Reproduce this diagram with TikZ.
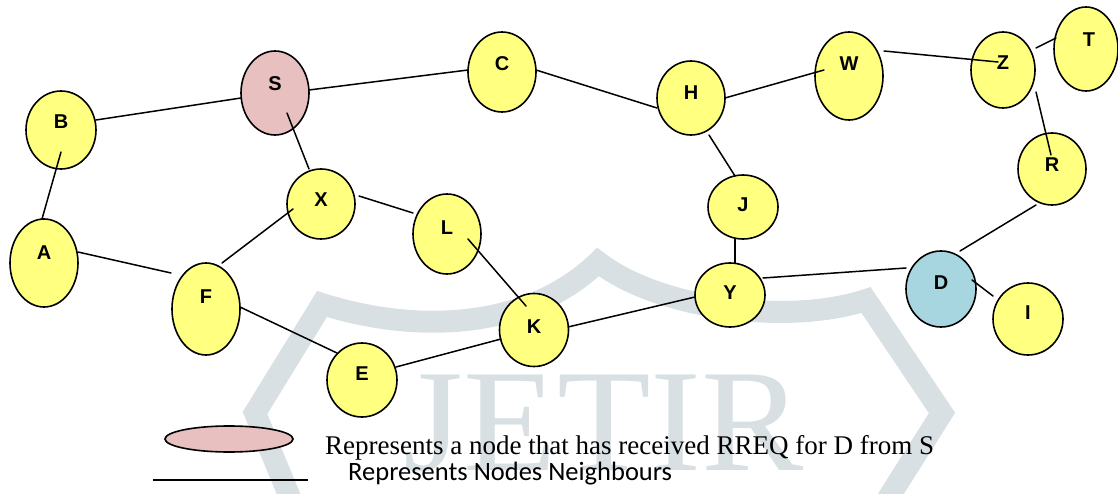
\documentclass[tikz,border=0pt]{standalone}
\usepackage{fontspec}
\setmainfont{Liberation Serif}
\newfontfamily\arialfont{Liberation Sans}
\newfontfamily\calfont{Carlito}
\usetikzlibrary{shapes.geometric,calc}
\definecolor{nodeyellow}{RGB}{255,255,128}
\definecolor{srcpink}{RGB}{232,192,192}
\definecolor{dstblue}{RGB}{168,214,224}
\definecolor{markgray}{RGB}{217,224,228}
\tikzset{
  peer/.style={ellipse, draw=black, line width=1.6pt, fill=nodeyellow, inner sep=0pt},
  tag/.style={font=\arialfont\bfseries\fontsize{20}{24}\selectfont, inner sep=0pt},
  link/.style={line width=1.5pt, line cap=round},
}
\begin{document}
\begin{tikzpicture}[x=1pt,y=-1pt]
\useasboundingbox (0,0) rectangle (1118,494);

% background mark: shield band and lettering
\draw[markgray, line width=22pt, line join=miter]
  (291,500) -- (255,413) -- (322,304)
  .. controls (420,335) and (530,328) .. (598,262)
  .. controls (660,310) and (790,325) .. (866,300)
  -- (942,413) -- (887,500);
\node[text=markgray, font=\fontsize{146}{150}\selectfont, anchor=base,
      xscale=1.05, inner sep=0pt] (mark) at (604,470) {JETIR};

% network nodes
\node[peer, minimum width=70pt, minimum height=78pt] (B) at (61,130) {};
\node[peer, fill=srcpink, minimum width=68pt, minimum height=84pt] (S) at (275,93) {};
\node[peer, minimum width=68pt, minimum height=80pt] (C) at (502,72) {};
\node[peer, minimum width=68pt, minimum height=74pt] (H) at (691,98) {};
\node[peer, minimum width=68pt, minimum height=88pt] (W) at (849,76) {};
\node[peer, minimum width=64pt, minimum height=76pt] (Z) at (1003,70) {};
\node[peer, minimum width=64pt, minimum height=84pt] (T) at (1086,49) {};
\node[peer, minimum width=68pt, minimum height=72pt] (R) at (1052,169) {};
\node[peer, minimum width=70pt, minimum height=64pt] (J) at (743,207) {};
\node[peer, minimum width=70pt, minimum height=64pt] (Y) at (730,295) {};
\node[peer, fill=dstblue, minimum width=70pt, minimum height=76pt] (D) at (941,289) {};
\node[peer, minimum width=70pt, minimum height=72pt] (I) at (1028,319) {};
\node[peer, minimum width=68pt, minimum height=88pt] (A) at (44,263) {};
\node[peer, minimum width=68pt, minimum height=70pt] (X) at (321,204) {};
\node[peer, minimum width=68pt, minimum height=80pt] (L) at (447,234) {};
\node[peer, minimum width=68pt, minimum height=92pt] (F) at (206,309) {};
\node[peer, minimum width=70pt, minimum height=74pt] (E) at (362,380) {};
\node[peer, minimum width=69pt, minimum height=73pt] (K) at (534,330) {};

% neighbour links
\draw[link] ([shift={(35,-10)}]B.center) -- ([shift={(-34,5)}]S.center);
\draw[link] ([shift={(34,-3)}]S.center) -- ([shift={(-34,-2)}]C.center);
\draw[link] ([shift={(34,-2)}]C.center) -- ([shift={(-34,10)}]H.center);
\draw[link] ([shift={(34,0)}]H.center) -- ([shift={(-25,-6)}]W.center);
\draw[link] ([shift={(35,-25)}]W.center) -- ([shift={(-5,-8)}]Z.center);
\draw[link] ([shift={(33,-22)}]Z.center) -- ([shift={(-30,-11)}]T.center);
\draw[link] ([shift={(33,22)}]Z.center) -- ([shift={(-1,-14)}]R.center);
\draw[link] ([shift={(-16,36)}]R.center) -- ([shift={(19,-38)}]D.center);
\draw[link] ([shift={(31,-9)}]D.center) -- ([shift={(-35,-23)}]I.center);
\draw[link] ([shift={(33,-17)}]Y.center) -- ([shift={(-35,-21)}]D.center);
\draw[link] ([shift={(-8,32)}]J.center) -- ([shift={(5,-32)}]Y.center);
\draw[link] ([shift={(18,37)}]H.center) -- ([shift={(-8,-31)}]J.center);
\draw[link] ([shift={(34,-3)}]K.center) -- ([shift={(-35,2)}]Y.center);
\draw[link] ([shift={(34,-13)}]E.center) -- ([shift={(-33,9)}]K.center);
\draw[link] ([shift={(34,-2)}]F.center) -- ([shift={(-25,-27)}]E.center);
\draw[link] ([shift={(34,-11)}]A.center) -- ([shift={(-35,-36)}]F.center);
\draw[link] ([shift={(16,-46)}]F.center) -- ([shift={(-28,5)}]X.center);
\draw[link] ([shift={(38,-8)}]X.center) -- ([shift={(-34,-21)}]L.center);
\draw[link] ([shift={(21,5)}]L.center) -- ([shift={(-8,-24)}]K.center);
\draw[link] ([shift={(0,22)}]B.center) -- ([shift={(-2,-44)}]A.center);
\draw[link] ([shift={(12,20)}]S.center) -- ([shift={(-12,-35)}]X.center);

% node letters
\node[tag] (Bt) at (61,122) {B};
\node[tag] (St) at (275,84) {S};
\node[tag] (Ct) at (502,64) {C};
\node[tag] (Ht) at (691,93) {H};
\node[tag] (Wt) at (849,64) {W};
\node[tag] (Zt) at (1003,63) {Z};
\node[tag] (Tt) at (1089,40) {T};
\node[tag] (Rt) at (1052,165) {R};
\node[tag] (Jt) at (743,205) {J};
\node[tag] (Yt) at (730,293) {Y};
\node[tag] (Dt) at (941,283) {D};
\node[tag] (It) at (1028,313) {I};
\node[tag] (At) at (44,253) {A};
\node[tag] (Xt) at (321,200) {X};
\node[tag] (Lt) at (447,228) {L};
\node[tag] (Ft) at (206,297) {F};
\node[tag] (Et) at (362,374) {E};
\node[tag] (Kt) at (534,327) {K};

% legend
\node[ellipse, draw=black, line width=1.6pt, fill=srcpink, inner sep=0pt,
      minimum width=128pt, minimum height=26pt] (keyS) at (229,439) {};
\node[anchor=base west, inner sep=0pt, font=\fontsize{27}{30}\selectfont]
  (keyStext) at (325,454) {Represents a node that has received RREQ for D from S};
\coordinate (keyL) at (153,480);
\coordinate (keyR) at (308,480);
\draw[line width=1.5pt] (keyL) -- (keyR);
\node[anchor=base west, inner sep=0pt, font=\calfont\fontsize{26.5}{30}\selectfont]
  (keyLtext) at (348,480) {Represents Nodes Neighbours};
\end{tikzpicture}
\end{document}
